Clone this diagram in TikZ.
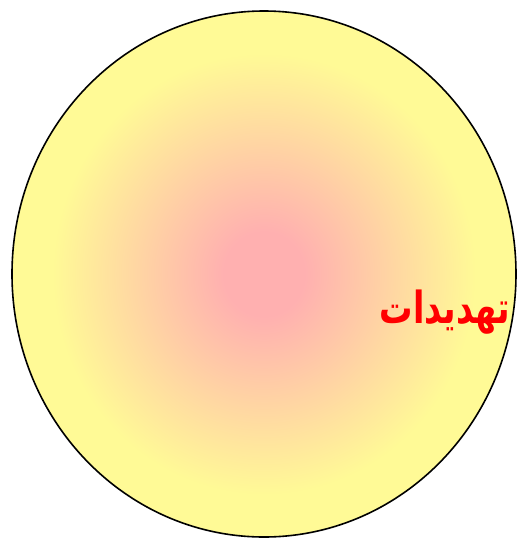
\documentclass[tikz,border=0pt]{standalone}
\usepackage{fontspec}
\TeXXeTstate=1
\newfontfamily\arabicfont[Script=Arabic]{DejaVu Sans}
\definecolor{innerpink}{RGB}{255,176,176}
\definecolor{outeryellow}{RGB}{255,250,150}
\definecolor{txtred}{RGB}{255,0,0}
\pgfdeclareradialshading{blob}{\pgfpoint{0bp}{0bp}}{color(0bp)=(innerpink); color(4bp)=(innerpink); color(21bp)=(outeryellow); color(50bp)=(outeryellow)}
\begin{document}
\begin{tikzpicture}[x=1pt,y=-1pt]
\useasboundingbox (0,0) rectangle (521,539);
\tikzset{disc/.style={draw=black,line width=1.6pt,shading=blob},
label/.style={text=txtred,font=\arabicfont\bfseries\fontsize{34}{38}\selectfont,inner sep=0pt,yscale=1.3,xscale=0.98}}
\path[disc] (264,274) ellipse [x radius=252, y radius=263];
\node[label] (t) at (445,312) {\beginR تهدیدات\endR};
\end{tikzpicture}
\end{document}
